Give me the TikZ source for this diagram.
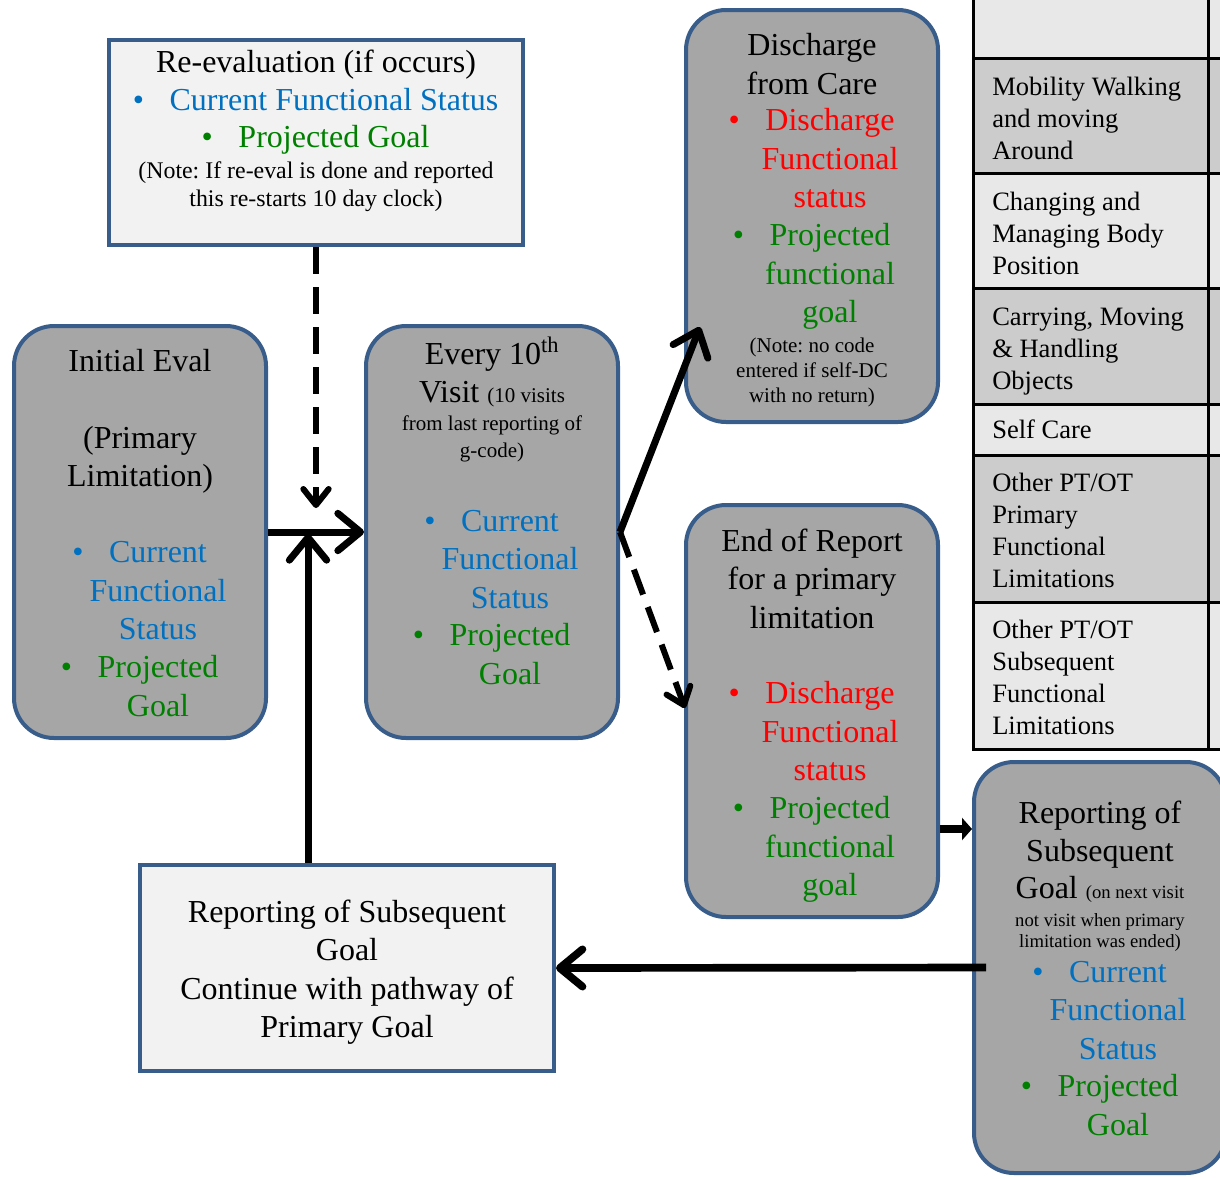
\documentclass[tikz,border=0pt]{standalone}
\usepackage{fontspec}
\setmainfont{Liberation Serif}
\usetikzlibrary{arrows.meta}
\frenchspacing

\definecolor{edge}{RGB}{56,93,138}
\definecolor{boxgray}{RGB}{166,166,166}
\definecolor{paper}{RGB}{242,242,242}
\definecolor{txtblue}{RGB}{0,112,192}
\definecolor{txtgreen}{RGB}{0,128,0}
\definecolor{txtred}{RGB}{255,0,0}
\definecolor{rowlight}{RGB}{232,232,232}
\definecolor{rowdark}{RGB}{204,204,204}

% type sizes
\newcommand\fbig{\fontsize{24}{28.9}\selectfont}
\newcommand\fnote{\fontsize{17.9}{21}\selectfont}
\newcommand\fsmall{\fontsize{15.75}{20}\selectfont}
\newcommand\fdc{\fontsize{15.75}{18.75}\selectfont}
\newcommand\ftiny{\fontsize{14}{16}\selectfont}
\newcommand\ftab{\fontsize{19.9}{24}\selectfont}
% hanging bullet in front of the first line of an item
\newcommand\bul{\llap{\textbullet\hspace{0.8em}}}

\tikzset{
  stage/.style={draw=edge, line width=3pt, fill=boxgray, rounded corners=30pt,
    minimum width=189pt, minimum height=309pt, inner sep=0pt},
  panel/.style={draw=edge, line width=3pt, fill=paper,
    minimum width=310.5pt, minimum height=153.75pt, inner sep=0pt},
  words/.style={inner sep=0pt, anchor=base, align=flush center, text width=300pt, font=\fbig},
  cell/.style={inner sep=0pt, anchor=base west, align=flush left, text width=170pt, font=\ftab},
  grid/.style={line width=2.25pt, black},
  flow/.style={line width=5.25pt, -{Straight Barb[length=17pt,width=28pt,round]}},
  flowdash/.style={line width=4.5pt, dash pattern=on 20pt off 10pt,
    -{Straight Barb[length=12pt,width=19pt,round]}},
  push/.style={line width=6pt, -{Triangle[length=7.5pt,width=16.5pt]}}
}

\begin{document}
\begin{tikzpicture}[x=0.75pt, y=-0.75pt]
\useasboundingbox (0,0) rectangle (1220,1178);

% ---- category table on the right ----
\fill[rowlight] (973,-5)    rectangle (1226,58.5);
\fill[rowdark]  (973,58.5)  rectangle (1226,173.5);
\fill[rowlight] (973,173.5) rectangle (1226,288.5);
\fill[rowdark]  (973,288.5) rectangle (1226,404.5);
\fill[rowlight] (973,404.5) rectangle (1226,455.5);
\fill[rowdark]  (973,455.5) rectangle (1226,602.5);
\fill[rowlight] (973,602.5) rectangle (1226,749.5);
\foreach \yy in {58.5,173.5,288.5,404.5,455.5,602.5,749.5}
  \draw[grid] (972,\yy) -- (1226,\yy);
\draw[grid] (973,-5) -- (973,750.5);
\draw[grid] (1208,-5) -- (1208,750.5);

\node[cell] (c1) at (992,95)    {Mobility Walking\\and moving\\Around};
\node[cell] (c2) at (992,210)   {Changing and\\Managing Body\\Position};
\node[cell] (c3) at (992,325)   {Carrying, Moving\\\& Handling\\Objects};
\node[cell] (c4) at (992,438)   {Self Care};
\node[cell] (c5) at (992,491.5) {Other PT/OT\\Primary\\Functional\\Limitations};
\node[cell] (c6) at (992,638.5) {Other PT/OT\\Subsequent\\Functional\\Limitations};

% ---- boxes ----
\node[panel] (reeval) at (316,142.5) {};
\node[stage] (init)   at (140,532) {};
\node[stage] (every)  at (492,532) {};
\node[stage] (disch)  at (812,216) {};
\node[stage] (endr)   at (812,711) {};
\node[stage, minimum height=308.25pt] (rsub) at (1100,967.5) {};
\node[panel, minimum height=154.5pt] (bot) at (347,968) {};

% re-evaluation
\node[words] (reeval-t) at (316,72) {Re-evaluation (if occurs)};
\node[words, text=txtblue]  (reeval-a) at (334,110) {\bul Current Functional Status};
\node[words, text=txtgreen] (reeval-b) at (334,147.5) {\bul Projected Goal};
\node[words, font=\fnote] (reeval-n) at (316,178.5)
  {(Note: If re-eval is done and reported\\this re-starts 10 day clock)};

% initial evaluation
\node[words] (init-t) at (140,371) {Initial Eval\\\mbox{}\\(Primary\\Limitation)};
\node[words, text=txtblue]  (init-a) at (158,562.5) {\bul Current\\Functional\\Status};
\node[words, text=txtgreen] (init-b) at (158,677.5) {\bul Projected\\Goal};

% every tenth visit
\node[words] (every-t) at (492,364.5) {Every 10\textsuperscript{th}};
\node[words] (every-u) at (492,402) {Visit {\fsmall (10 visits}};
\node[words, font=\fsmall] (every-n) at (492,430.5) {from last reporting of\\g-code)};
\node[words, text=txtblue]  (every-a) at (510,531) {\bul Current\\Functional\\Status};
\node[words, text=txtgreen] (every-b) at (510,645.5) {\bul Projected\\Goal};

% discharge
\node[words] (disch-t) at (812,55.5) {Discharge\\from Care};
\node[words, text=txtred]   (disch-a) at (830,130.5) {\bul Discharge\\Functional\\status};
\node[words, text=txtgreen] (disch-b) at (830,245.5) {\bul Projected\\functional\\goal};
\node[words, font=\fdc] (disch-n) at (812,352)
  {(Note: no code\\entered if self-DC\\with no return)};

% end of report
\node[words] (endr-t) at (812,551) {End of Report\\for a primary\\limitation};
\node[words, text=txtred]   (endr-a) at (830,703.5) {\bul Discharge\\Functional\\status};
\node[words, text=txtgreen] (endr-b) at (830,818.5) {\bul Projected\\functional\\goal};

% subsequent goal (right)
\node[words] (rsub-t) at (1100,823) {Reporting of\\Subsequent};
\node[words] (rsub-u) at (1100,898.5) {Goal {\ftiny (on next visit}};
\node[words, font=\ftiny] (rsub-n) at (1100,926) {not visit when primary\\limitation was ended)};
\node[words, text=txtblue]  (rsub-a) at (1118,982) {\bul Current\\Functional\\Status};
\node[words, text=txtgreen] (rsub-b) at (1118,1096.5) {\bul Projected\\Goal};

% subsequent goal (bottom)
\node[words] (bot-t) at (347,922)
  {Reporting of Subsequent\\Goal\\Continue with pathway of\\Primary Goal};

% ---- connectors ----
\coordinate (meet)  at (308,534);
\coordinate (drop)  at (316,508);
\coordinate (dctip) at (700,327);
\coordinate (ertip) at (685,708);
\coordinate (hand)  at (940,829);

\draw[flowdash] (reeval.south) -- (drop);
\draw[flow] (init.east) -- (every.west);
\draw[flow] (bot.north -| meet) -- (meet);
\draw[flow] (every.east) -- (dctip);
\draw[flowdash] (every.east) -- (ertip);
\draw[push] (hand) -- (rsub.west |- hand);
\draw[flow, line width=5.75pt] ([xshift=10.5pt]rsub.west) -- (bot.east);
\end{tikzpicture}
\end{document}
